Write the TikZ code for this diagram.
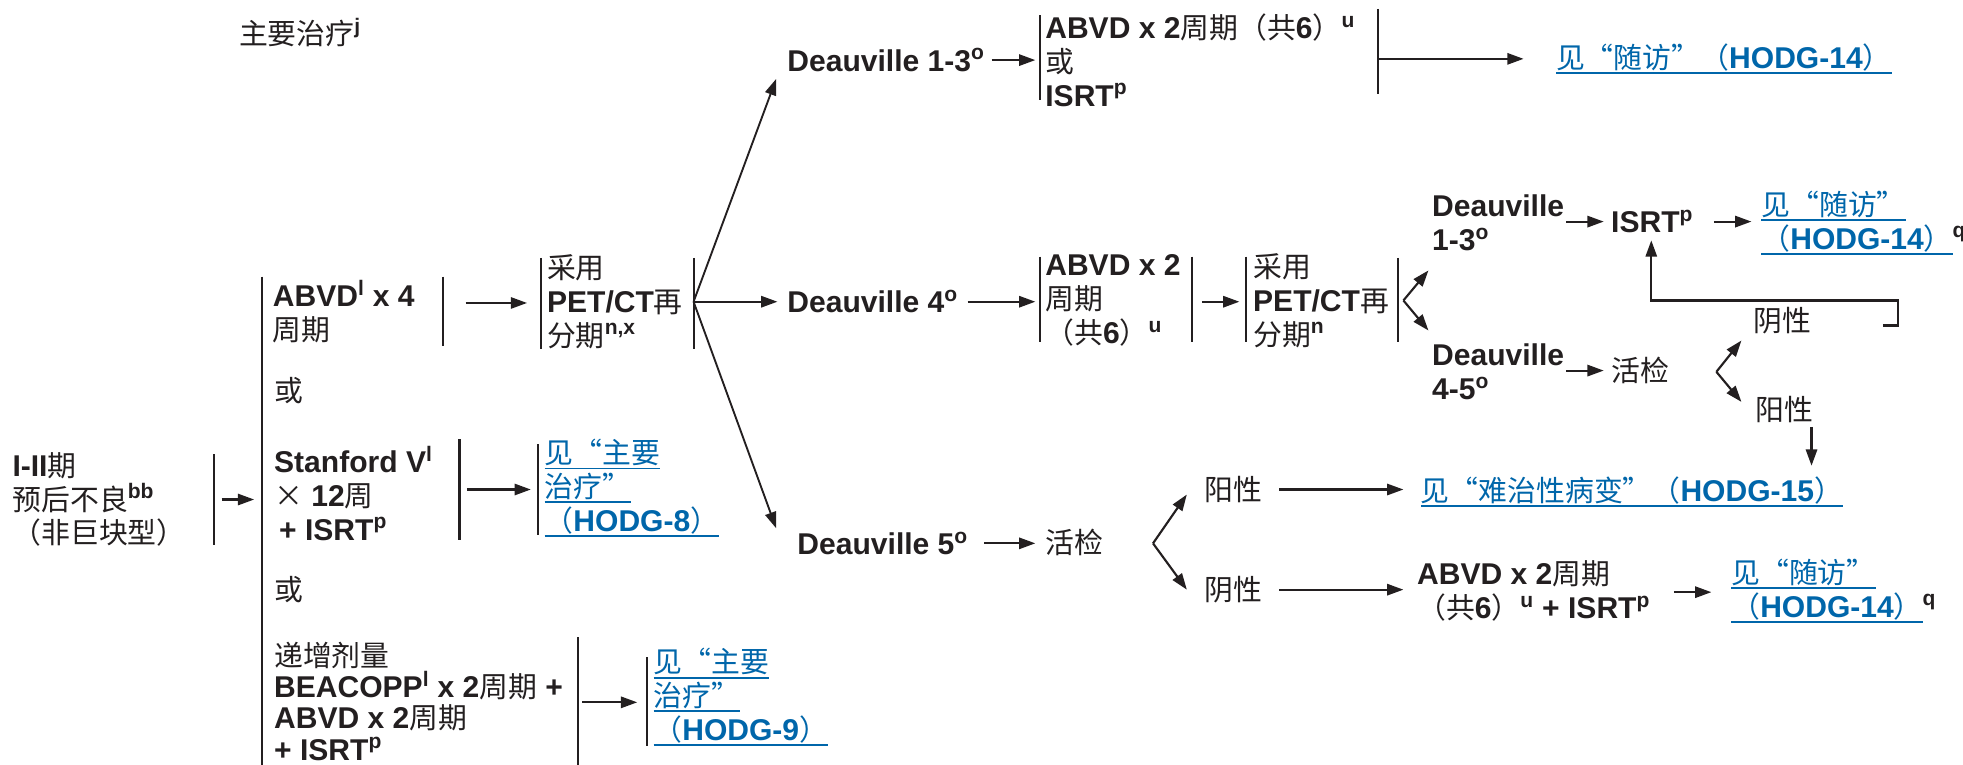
\documentclass[tikz,border=0pt]{standalone}
\usepackage{fontspec}
\setmainfont{Liberation Sans}
\newfontfamily\zhfont{Noto Sans CJK SC}[Scale=0.96]
\newcommand\zh[1]{{\zhfont\mdseries #1}}
\newcommand\sps[1]{\textsuperscript{#1}}
\newcommand\ul[1]{\leavevmode\setbox0\hbox{#1}\rlap{\rule[-4.5pt]{\wd0}{1.5pt}}\box0}
\usetikzlibrary{arrows.meta}
\definecolor{ink}{RGB}{35,31,32}
\definecolor{linkblue}{RGB}{0,102,170}
\begin{document}
\begin{tikzpicture}[x=1pt,y=-1pt,
  every node/.style={inner sep=0pt,outer sep=0pt},
  txt/.style={anchor=west,align=left,text=ink,font=\fontsize{24}{27}\selectfont\bfseries},
  tight/.style={font=\fontsize{24}{25}\selectfont\bfseries},
  lnk/.style={txt,text=linkblue},
  bar/.style={draw=ink,line width=1.7pt},
  arr/.style={draw=ink,line width=1.7pt,-{Triangle[length=13pt,width=9pt]}},
  diag/.style={draw=ink,line width=1.5pt,-{Triangle[length=13pt,width=9pt]}},
]
\useasboundingbox (0,0) rectangle (1568,611);

% ---- text nodes
\node[txt] (title) at (191,26) {\zh{主要治疗}\sps{j}};
\node[txt] (L) at (10,399) {I-II\zh{期}\\\zh{预后不良}\sps{bb}\\\zh{（非巨块型）}};
\node[txt] (c1) at (218,249) {ABVD\sps{l} x 4\\\zh{周期}};
\node[txt] (r1) at (437,241) {\zh{采用}\\PET/CT\zh{再}\\\zh{分期}\sps{n,x}};
\node[txt] (or1) at (219,312) {\zh{或}};
\node[txt] (c2) at (219,394) {Stanford V\sps{l}\\\zh{×} 12\zh{周}\\\hspace*{4pt}+ ISRT\sps{p}};
\node[lnk] (lk8) at (435,390) {\ul{\zh{见“主要}}\\\ul{\zh{治疗”}}\\\ul{\zh{（}HODG-8\zh{）}}};
\node[txt] (or2) at (219,471) {\zh{或}};
\node[txt,tight] (c3) at (219,560) {\zh{递增剂量}\\BEACOPP\sps{l} x 2\zh{周期} +\\ABVD x 2\zh{周期}\\+ ISRT\sps{p}};
\node[lnk] (lk9) at (522,557) {\ul{\zh{见“主要}}\\\ul{\zh{治疗”}}\\\ul{\zh{（}HODG-9\zh{）}}};

\node[txt] (D13) at (629,48) {Deauville 1-3\sps{o}};
\node[txt] (t13) at (835,48) {ABVD x 2\zh{周期（共}6\zh{）}\sps{u}\\\zh{或}\\ISRT\sps{p}};
\node[lnk] (fu1) at (1243,47) {\ul{\zh{见“随访”（}HODG-14\zh{）}}};

\node[txt] (D4) at (629,241) {Deauville 4\sps{o}};
\node[txt] (t4) at (835,240) {ABVD x 2\\\zh{周期}\\\zh{（共}6\zh{）}\sps{u}};
\node[txt] (r2) at (1001,240) {\zh{采用}\\PET/CT\zh{再}\\\zh{分期}\sps{n}};
\node[txt] (D13b) at (1144,178) {Deauville\\1-3\sps{o}};
\node[txt] (isrt) at (1287,177) {ISRT\sps{p}};
\node[lnk] (fu2) at (1407,178) {\ul{\zh{见“随访”}}\\\ul{\zh{（}HODG-14\zh{）}}\textcolor{ink}{\sps{q}}};
\node[txt] (neg1) at (1401,256) {\zh{阴性}};
\node[txt] (D45) at (1144,297) {Deauville\\4-5\sps{o}};
\node[txt] (bx1) at (1287,296) {\zh{活检}};
\node[txt] (pos1) at (1402,327) {\zh{阳性}};
\node[lnk] (ref15) at (1135,393) {\ul{\zh{见“难治性病变”（}HODG-15\zh{）}}};

\node[txt] (D5) at (637,434) {Deauville 5\sps{o}};
\node[txt] (bx2) at (835,433) {\zh{活检}};
\node[txt] (pos2) at (962,391) {\zh{阳性}};
\node[txt] (neg2) at (962,471) {\zh{阴性}};
\node[txt] (t5) at (1132,472) {ABVD x 2\zh{周期}\\\zh{（共}6\zh{）}\sps{u} + ISRT\sps{p}};
\node[lnk] (fu3) at (1383,472) {\ul{\zh{见“随访”}}\\\ul{\zh{（}HODG-14\zh{）}}\textcolor{ink}{\sps{q}}};

% ---- bars and connectors
\draw[bar] (171,363) -- (171,435);
\draw[arr] (177,399) -- (203,399);
\draw[bar] (209,221) -- (209,611);
\draw[bar] (354,221) -- (354,276);
\draw[arr] (372,242) -- (421,242);
\draw[bar] (432,206) -- (432,279);
\draw[bar] (554,206) -- (554,279);
\coordinate (J1) at (554,241);
\draw[diag] (J1) -- (620,63);
\draw[arr] (J1) -- ([xshift=-8pt]D4.west);
\draw[diag] (J1) -- (620,422);

\draw[arr] (792,48) -- (827,48);
\draw[bar] (831,12) -- (831,80);
\draw[bar] (1101,7) -- (1101,75);
\draw[arr] (1101,47) -- (1217,47);

\draw[arr] (773,241) -- (827,241);
\draw[bar] (831,205) -- (831,273);
\draw[bar] (952,205) -- (952,273);
\draw[arr] (960,241) -- (990,241);
\draw[bar] (995,205) -- (995,273);
\draw[bar] (1117,206) -- (1117,273);
\coordinate (J2) at (1121,240);
\draw[arr] (J2) -- (1141,216);
\draw[arr] (J2) -- (1141,264);
\draw[arr] (1251,177) -- (1281,177);
\draw[arr] (1369,177) -- (1399,177);
\draw[arr] (1504,260) -- (1516,260) -- (1516,240) -- (1319,240) -- (1319,192);
\draw[arr] (1251,296) -- (1281,296);
\coordinate (J3) at (1371,297);
\draw[arr] (J3) -- (1391,272);
\draw[arr] (J3) -- (1391,321);
\draw[arr] (1447,341) -- (1447,372);

\draw[arr] (786,434) -- (827,434);
\coordinate (J4) at (921,434);
\draw[arr] (J4) -- (948,395);
\draw[arr] (J4) -- (948,471);
\draw[arr] (1022,391) -- (1121,391);
\draw[arr] (1022,471) -- (1121,471);
\draw[arr] (1337,473) -- (1367,473);

\draw[bar] (367,351) -- (367,431);
\draw[arr] (373,391) -- (424,391);
\draw[bar] (430,355) -- (430,427);
\draw[bar] (462,509) -- (462,611);
\draw[arr] (465,561) -- (509,561);
\draw[bar] (517,525) -- (517,596);
\end{tikzpicture}
\end{document}
